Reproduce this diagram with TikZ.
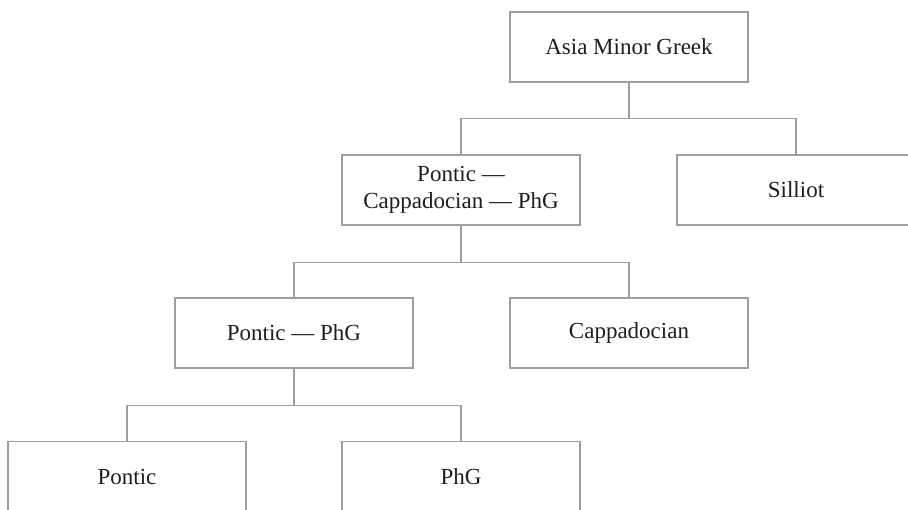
\documentclass[tikz,border=0pt]{standalone}
\usepackage{fontspec}
\setmainfont{Liberation Serif}
\definecolor{linegray}{RGB}{158,158,158}
\definecolor{textdark}{RGB}{30,30,30}
\tikzset{
  langbox/.style={draw=linegray, line width=1.2pt, minimum width=238pt, minimum height=70pt,
    inner sep=0pt, align=center, text=textdark, font=\fontsize{23}{27}\selectfont},
  conn/.style={draw=linegray, line width=1.2pt}
}
\begin{document}
\begin{tikzpicture}[x=1pt,y=1pt]
\useasboundingbox (0,0) rectangle (908,-509);
\begin{scope}
\clip (0,0) rectangle (908,-509);
\node[langbox] (top) at (629,-47) {Asia Minor Greek};
\node[langbox] (pcp) at (461,-190) {Pontic —\\Cappadocian — PhG};
\node[langbox] (sil) at (796,-190) {Silliot};
\node[langbox] (ppg) at (294,-333) {Pontic — PhG};
\node[langbox] (cap) at (629,-333) {Cappadocian};
\node[langbox] (pon) at (127,-476.5) {Pontic};
\node[langbox] (phg) at (461,-476.5) {PhG};
\draw[conn] (top.south) -- ++(0,-36) coordinate (j1);
\draw[conn] (pcp.north) |- (j1) -| (sil.north);
\draw[conn] (pcp.south) -- ++(0,-37) coordinate (j2);
\draw[conn] (ppg.north) |- (j2) -| (cap.north);
\draw[conn] (ppg.south) -- ++(0,-37) coordinate (j3);
\draw[conn] (pon.north) |- (j3) -| (phg.north);
\end{scope}
\end{tikzpicture}
\end{document}
